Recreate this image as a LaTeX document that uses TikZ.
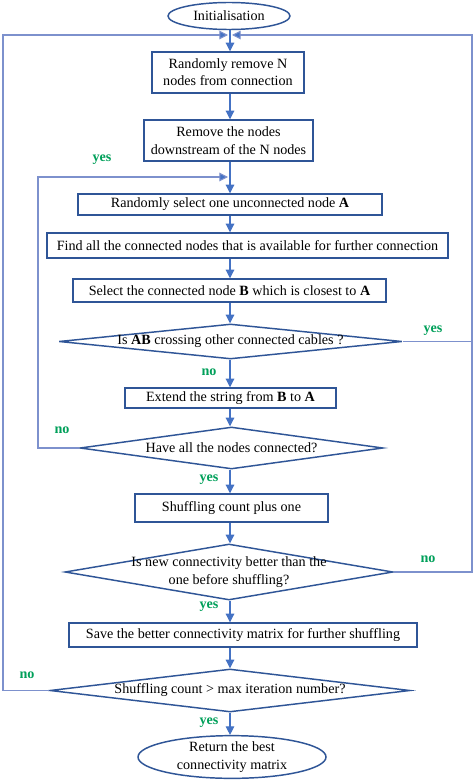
\documentclass[tikz,border=0pt]{standalone}
\usepackage{fontspec}
\setmainfont{Liberation Serif}
\usetikzlibrary{shapes.geometric,arrows.meta}
\definecolor{boxc}{RGB}{47,85,151}
\definecolor{arrc}{RGB}{68,114,196}
\definecolor{loopc}{RGB}{125,145,205}
\definecolor{lblc}{RGB}{0,160,90}
\begin{document}
\begin{tikzpicture}[x=0.75pt,y=-0.75pt,
  font=\fontsize{10.6}{13}\selectfont,
  sz/.style 2 args={minimum width=#1*0.75pt,minimum height=#2*0.75pt},
  stepbox/.style={draw=boxc,line width=1.1pt,rectangle,inner sep=0pt,align=center},
  decbox/.style={draw=boxc,line width=1.1pt,diamond,inner sep=0pt,aspect=1},
  termbox/.style={draw=boxc,line width=1.1pt,ellipse,inner sep=0pt,align=center},
  flow/.style={draw=arrc,line width=0.8pt,-{Triangle[length=6.5pt,width=6.5pt]}},
  loopl/.style={draw=loopc,line width=0.8pt},
  loopa/.style={draw=loopc,line width=0.8pt,-{Triangle[length=6.5pt,width=6.5pt,fill=arrc]}},
  lbl/.style={text=lblc,font=\fontsize{10.6}{12}\selectfont\bfseries,inner sep=0pt}]
\useasboundingbox (0,0) rectangle (474,781);
\fill[white] (0,0) rectangle (474,781);
% nodes
\node[termbox,sz={122}{27}] (init) at (229,16) {Initialisation};
\node[stepbox,sz={152}{41}] (b1) at (228,72.5) {Randomly remove N\\nodes from connection};
\node[stepbox,sz={169}{41}] (b2) at (228.5,140.5) {Remove the nodes\\downstream of the N nodes};
\node[stepbox,sz={304}{21}] (b3) at (230,204.5) {Randomly select one unconnected node \textbf{A}};
\node[stepbox,sz={401}{25}] (b4) at (247.5,245.5) {Find all the connected nodes that is available for further connection};
\node[stepbox,sz={313}{23}] (b5) at (229.5,290.5) {Select the connected node \textbf{B} which is closest to \textbf{A}};
\node[decbox,sz={343}{35}] (d1) at (230.5,341.5) {\makebox[0pt]{Is \textbf{AB} crossing other connected cables ?}};
\node[stepbox,sz={211}{20}] (b6) at (230.5,398) {Extend the string from \textbf{B} to \textbf{A}};
\node[decbox,sz={303}{42}] (d2) at (231.5,448) {\makebox[0pt]{Have all the nodes connected?}};
\node[stepbox,sz={193}{28}] (b7) at (231.5,508) {Shuffling count plus one};
\node[decbox,sz={328}{56}] (d3) at (229,572) {\makebox[0pt]{\begin{tabular}{@{}c@{}}Is new connectivity better than the\\one before shuffling?\end{tabular}}};
\node[stepbox,sz={348}{24}] (b8) at (243,635) {Save the better connectivity matrix for further shuffling};
\node[decbox,sz={360}{43}] (d4) at (230,690.5) {\makebox[0pt]{Shuffling count {>} max iteration number?}};
\node[termbox,sz={188}{40}] (ret) at (232,757) {Return the best\\connectivity matrix};
% labels
\node[lbl] (l1) at (102,160) {yes};
\node[lbl] (l2) at (62,430) {no};
\node[lbl] (l3) at (433,331) {yes};
\node[lbl] (l4) at (209,372) {no};
\node[lbl] (l5) at (209,480) {yes};
\node[lbl] (l6) at (428,559) {no};
\node[lbl] (l7) at (209,607) {yes};
\node[lbl] (l8) at (27,675) {no};
\node[lbl] (l9) at (209,723) {yes};
% axis coordinates
\coordinate (ax) at (230,0);
\coordinate (top) at (230,35);
\coordinate (topL) at (228,35);
\coordinate (topR) at (232,35);
\coordinate (lx) at (3,0);
\coordinate (rx) at (472,0);
\coordinate (ix) at (38,0);
\coordinate (inL) at (228,177);
% main flow
\draw[flow] (init.south -| ax) -- (b1.north -| ax);
\draw[flow] (b1.south -| ax) -- (b2.north -| ax);
\draw[flow] (b2.south -| ax) -- (b3.north -| ax);
\draw[flow] (b3.south -| ax) -- (b4.north -| ax);
\draw[flow] (b4.south -| ax) -- (b5.north -| ax);
\draw[flow] (b5.south -| ax) -- (d1.north -| ax);
\draw[flow] (d1.south -| ax) -- (b6.north -| ax);
\draw[flow] (b6.south -| ax) -- (d2.north -| ax);
\draw[flow] (d2.south -| ax) -- (b7.north -| ax);
\draw[flow] (b7.south -| ax) -- (d3.north -| ax);
\draw[flow] (d3.south -| ax) -- (b8.north -| ax);
\draw[flow] (b8.south -| ax) -- (d4.north -| ax);
\draw[flow] (d4.south -| ax) -- (ret.north -| ax);
% loops
\draw[loopa] (d4.west) -- (d4.west -| lx) -- (lx |- topL) -- (topL);
\draw[loopa] (d1.east) -- (d1.east -| rx) -- (rx |- topR) -- (topR);
\draw[loopl] (d3.east) -- (d3.east -| rx) -- (d1.east -| rx);
\draw[loopa] (d2.west) -- (d2.west -| ix) -- (ix |- inL) -- (inL);
\end{tikzpicture}
\end{document}
